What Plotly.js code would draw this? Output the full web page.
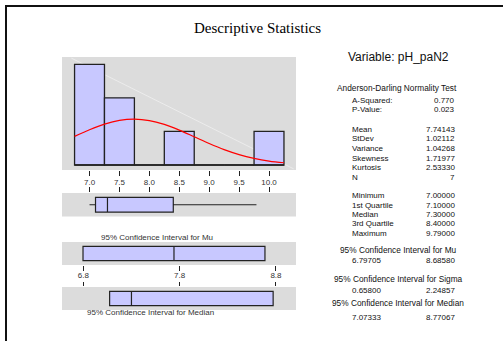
<!DOCTYPE html>
<html>
<head>
<meta charset="utf-8">
<script src="https://cdn.plot.ly/plotly-3.0.1.min.js"></script>
<style>html,body{margin:0;padding:0;background:#fff}#chart{width:503px;height:341px}</style>
</head>
<body>
<div id="chart"></div>
<script>
// ---------- data ----------
const chartTitle = "Descriptive Statistics";
const variableName = "Variable: pH_paN2";
const binCenters = [7.0, 7.5, 8.0, 8.5, 9.0, 9.5, 10.0];
const binCounts  = [3, 2, 0, 1, 0, 0, 1];
const binWidth = 0.5;
const histTicks = [7.0, 7.5, 8.0, 8.5, 9.0, 9.5, 10.0];
// fitted normal curve (counts scale)
const fitX = [6.75, 7.0, 7.25, 7.5, 7.75, 8.0, 8.25, 8.5, 8.75, 9.0, 9.25, 9.5, 9.75, 10.0, 10.25];
const fitY = [0.854, 1.051, 1.218, 1.330, 1.367, 1.324, 1.208, 1.038, 0.840, 0.640, 0.459, 0.310, 0.198, 0.118, 0.067];
const minimum = 7.0, q1 = 7.1, median = 7.3, q3 = 8.4, maximum = 9.79;
const mean = 7.74143;
const ciMu = [6.79705, 8.68580];
const ciSigma = [0.65800, 2.24857];
const ciMedian = [7.07333, 8.77067];
const ciTicks = [6.8, 7.8, 8.8];
const adLabels = ["A-Squared:", "P-Value:"];
const adValues = ["0.770", "0.023"];
const momLabels = ["Mean", "StDev", "Variance", "Skewness", "Kurtosis", "N"];
const momValues = ["7.74143", "1.02112", "1.04268", "1.71977", "2.53330", "7"];
const qLabels = ["Minimum", "1st Quartile", "Median", "3rd Quartile", "Maximum"];
const qValues = ["7.00000", "7.10000", "7.30000", "8.40000", "9.79000"];

// ---------- layout helpers ----------
const W = 503, H = 341;
const px = v => v / W;
const py = v => 1 - v / H;
const lav = "rgb(200,200,255)";
const edge = "#222";
const sans = "Liberation Sans, Arial, sans-serif";

const xDom = [px(62), px(296)];
const histRange = [6.540, 10.451];
const ciRange = [6.579, 9.008];

const traces = [
  {type: "bar", x: binCenters, y: binCounts, width: binWidth, xaxis: "x", yaxis: "y",
   marker: {color: lav, line: {color: edge, width: 1.3}}, hoverinfo: "skip"},
  {type: "scatter", mode: "lines",
   x: [binCenters[0] - binWidth / 2, binCenters[binCenters.length - 1] + binWidth / 2], y: [0, 0],
   xaxis: "x", yaxis: "y", line: {color: edge, width: 1.3}, hoverinfo: "skip"},
  {type: "scatter", mode: "lines", x: fitX, y: fitY, xaxis: "x", yaxis: "y",
   line: {color: "red", width: 1.2, shape: "spline"}, hoverinfo: "skip"},
  {type: "box", orientation: "h", y: [0], q1: [q1], median: [median], q3: [q3],
   lowerfence: [minimum], upperfence: [maximum], xaxis: "x2", yaxis: "y2", width: 0.62,
   whiskerwidth: 0, boxpoints: false, fillcolor: lav, line: {color: edge, width: 1.2}, hoverinfo: "skip"},
  {type: "box", orientation: "h", y: [0], q1: [ciMu[0]], median: [mean], q3: [ciMu[1]],
   lowerfence: [ciMu[0]], upperfence: [ciMu[1]], xaxis: "x3", yaxis: "y3", width: 0.62,
   whiskerwidth: 0, boxpoints: false, fillcolor: lav, line: {color: edge, width: 1.2}, hoverinfo: "skip"},
  {type: "box", orientation: "h", y: [0], q1: [ciMedian[0]], median: [median], q3: [ciMedian[1]],
   lowerfence: [ciMedian[0]], upperfence: [ciMedian[1]], xaxis: "x4", yaxis: "y4", width: 0.62,
   whiskerwidth: 0, boxpoints: false, fillcolor: lav, line: {color: edge, width: 1.2}, hoverinfo: "skip"}
];

const tickFont = {family: sans, size: 8, color: "#333"};
const baseX = {domain: xDom, showgrid: false, zeroline: false, showline: false,
  ticks: "outside", tickcolor: "#222", tickwidth: 1, tickfont: tickFont, fixedrange: true};
const hiddenY = {showgrid: false, zeroline: false, showline: false, showticklabels: false, ticks: "", fixedrange: true};

const annotations = [];
function txt(text, x, y, anchor, size, family, color) {
  annotations.push({text: text, xref: "paper", yref: "paper", x: px(x), y: py(y),
    xanchor: anchor, yanchor: "middle", showarrow: false, borderpad: 0, borderwidth: 0,
    font: {family: family || sans, size: size || 8, color: color || "#111"}});
}
txt(chartTitle, 257, 28, "center", 15, "Liberation Serif, Times New Roman, serif", "#000");
txt(variableName, 398, 57, "center", 12);
txt("Anderson-Darling Normality Test", 397, 88, "center", 8.3);
const LX = 352, RX = 455;
const adY = [101, 110];
adLabels.forEach((l, i) => { txt(l, LX, adY[i], "left"); txt(adValues[i], RX, adY[i], "right"); });
const momY = [129.3, 138.9, 148.6, 158.2, 167.8, 177.3];
momLabels.forEach((l, i) => { txt(l, LX, momY[i], "left"); txt(momValues[i], RX, momY[i], "right"); });
const qY = [195.7, 205.1, 214.5, 223.9, 233.3];
qLabels.forEach((l, i) => { txt(l, LX, qY[i], "left"); txt(qValues[i], RX, qY[i], "right"); });
txt("95% Confidence Interval for Mu", 398, 249.5, "center", 8.3);
txt(ciMu[0].toFixed(5), LX, 260, "left"); txt(ciMu[1].toFixed(5), RX, 260, "right");
txt("95% Confidence Interval for Sigma", 398, 278.5, "center", 8.3);
txt(ciSigma[0].toFixed(5), LX, 290, "left"); txt(ciSigma[1].toFixed(5), RX, 290, "right");
txt("95% Confidence Interval for Median", 398, 302.5, "center", 8.3);
txt(ciMedian[0].toFixed(5), LX, 317.5, "left"); txt(ciMedian[1].toFixed(5), RX, 317.5, "right");
txt("95% Confidence Interval for Mu", 156.5, 237, "center", 8, sans, "#333");
txt("95% Confidence Interval for Median", 150, 312.5, "center", 8, sans, "#333");

const shapes = [
  {type: "line", xref: "paper", yref: "paper", x0: px(6), x1: px(6), y0: 0, y1: py(5), line: {color: "#111", width: 2}},
  {type: "line", xref: "paper", yref: "paper", x0: px(5), x1: 1, y0: py(6), y1: py(6), line: {color: "#111", width: 2}},
  {type: "line", xref: "x domain", yref: "y domain", x0: 0.04, y0: 0.99, x1: 0.99, y1: 0.01, layer: "below",
   line: {color: "rgba(255,255,255,0.45)", width: 1}}
];

const layout = {
  width: W, height: H, margin: {l: 0, r: 0, t: 0, b: 0},
  paper_bgcolor: "#fff", plot_bgcolor: "#dcdcdc", showlegend: false,
  xaxis: Object.assign({}, baseX, {anchor: "y", range: histRange, tickvals: histTicks, tickformat: ".1f", ticklen: 5, ticklabelstandoff: -1}),
  yaxis: Object.assign({}, hiddenY, {domain: [py(170), py(57)], range: [-0.149, 3.217]}),
  xaxis2: Object.assign({}, baseX, {anchor: "y2", side: "top", range: histRange, tickvals: histTicks, showticklabels: false, ticklen: 5}),
  yaxis2: Object.assign({}, hiddenY, {domain: [py(216.5), py(193)], range: [-0.5, 0.5]}),
  xaxis3: Object.assign({}, baseX, {anchor: "y3", range: ciRange, tickvals: ciTicks, tickformat: ".1f", ticklen: 5, ticklabelstandoff: -3}),
  yaxis3: Object.assign({}, hiddenY, {domain: [py(265), py(242)], range: [-0.5, 0.5]}),
  xaxis4: Object.assign({}, baseX, {anchor: "y4", side: "top", range: ciRange, tickvals: ciTicks, showticklabels: false, ticklen: 4}),
  yaxis4: Object.assign({}, hiddenY, {domain: [py(310), py(287)], range: [-0.5, 0.5]}),
  annotations: annotations, shapes: shapes
};

Plotly.newPlot("chart", traces, layout, {displayModeBar: false, staticPlot: true});
</script>
</body>
</html>
